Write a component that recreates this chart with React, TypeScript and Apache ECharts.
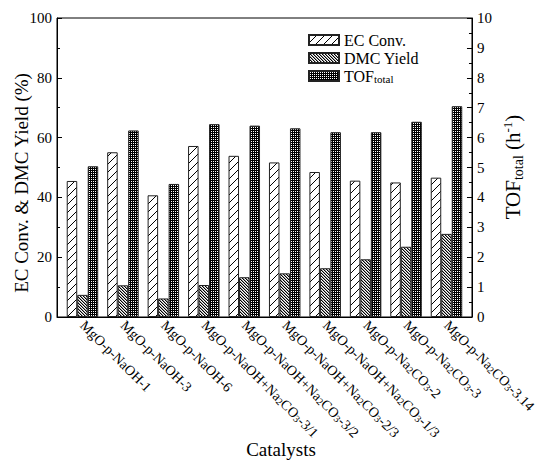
import React, { useEffect, useRef } from 'react';
import * as echarts from 'echarts';

const categories = [
  'MgO-p-NaOH-1',
  'MgO-p-NaOH-3',
  'MgO-p-NaOH-6',
  'MgO-p-NaOH+Na2CO3-3/1',
  'MgO-p-NaOH+Na2CO3-3/2',
  'MgO-p-NaOH+Na2CO3-2/3',
  'MgO-p-NaOH+Na2CO3-1/3',
  'MgO-p-Na2CO3-2',
  'MgO-p-Na2CO3-3',
  'MgO-p-Na2CO3-3.14',
];
const ecConv = [45.5, 55.1, 40.7, 57.2, 53.9, 51.7, 48.5, 45.6, 45.0, 46.6];
const dmcYield = [7.4, 10.6, 6.2, 10.7, 13.3, 14.6, 16.3, 19.3, 23.5, 27.8];
const tofTotal = [5.04, 6.24, 4.45, 6.45, 6.4, 6.31, 6.18, 6.18, 6.53, 7.05];
const seriesNames = ['EC Conv.', 'DMC Yield', 'TOFtotal'];

const FONT = 'Liberation Serif';

function makePattern(kind: string) {
  const c = document.createElement('canvas');
  let n = 8;
  if (kind === 'dmc') n = 3;
  if (kind === 'tof') n = 2;
  c.width = n;
  c.height = n;
  const ctx = c.getContext('2d')!;
  if (kind === 'ec') {
    ctx.fillStyle = '#fff';
    ctx.fillRect(0, 0, n, n);
    ctx.fillStyle = '#000';
    for (let i = 0; i < n; i++) ctx.fillRect(i, n - 1 - i, 1, 1);
  } else if (kind === 'dmc') {
    ctx.fillStyle = '#fff';
    ctx.fillRect(0, 0, n, n);
    for (let i = 0; i < n; i++) {
      ctx.fillStyle = '#000';
      ctx.fillRect(i, i, 1, 1);
      ctx.fillStyle = '#999';
      ctx.fillRect((i + 1) % n, i, 1, 1);
    }
  } else {
    ctx.fillStyle = '#000';
    ctx.fillRect(0, 0, n, n);
    ctx.fillStyle = '#fff';
    ctx.fillRect(1, 1, 1, 1);
  }
  return { image: c, repeat: 'repeat', imageWidth: n, imageHeight: n } as any;
}

function fmtCat(name: string) {
  const parts = name.split('Na2CO3');
  return parts.map((p) => (p ? `{m|${p}}` : '')).join('{m|Na}{s|2}{m|CO}{s|3}');
}

const rt = (size: number, extra: any = {}) => ({
  fontSize: size,
  fontFamily: FONT,
  color: '#000',
  fill: '#000',
  ...extra,
});

export default function App() {
  const ref = useRef<HTMLDivElement>(null);
  useEffect(() => {
    if (!ref.current) return;
    const chart = echarts.init(ref.current, undefined, { renderer: 'svg' });
    const pats = [makePattern('ec'), makePattern('dmc'), makePattern('tof')];
    const values = [ecConv, dmcYield, tofTotal];
    const xs = categories.map((_, i) => i + 1);
    const yAxisCommon = {
      type: 'value' as const,
      axisLine: { show: true, lineStyle: { color: '#000', width: 1 } },
      axisTick: { show: true, inside: true, length: 5, lineStyle: { color: '#000' } },
      minorTick: { show: true, splitNumber: 2, length: 3, lineStyle: { color: '#000' } },
      splitLine: { show: false },
      axisLabel: {
        color: '#000',
        fontSize: 15,
        fontFamily: FONT,
        margin: 5,
        formatter: (v: number) => `{n|${v}}`,
        rich: { n: rt(15) },
      },
    };
    chart.setOption({
      animation: false,
      backgroundColor: '#fff',
      textStyle: { fontFamily: FONT },
      grid: {
        left: 57,
        right: 62,
        top: 18,
        bottom: 151,
        show: true,
        borderColor: '#000',
        borderWidth: 1,
        containLabel: false,
      },
      legend: {
        orient: 'vertical',
        left: 303,
        top: 27,
        itemWidth: 30,
        itemHeight: 10,
        itemGap: 2,
        icon: 'rect',
        textStyle: {
          color: '#000',
          fontSize: 16,
          fontFamily: FONT,
          rich: {
            b: rt(16),
            s: rt(11, { verticalAlign: 'bottom' }),
          },
        },
        formatter: (name: string) => (name === 'TOFtotal' ? '{b|TOF}{s|total}' : `{b|${name}}`),
        data: seriesNames,
      },
      xAxis: {
        type: 'value',
        min: 0.37,
        max: 10.63,
        axisLine: { show: true, lineStyle: { color: '#000' } },
        axisTick: { show: false },
        splitLine: { show: false },
        axisLabel: {
          customValues: xs,
          rotate: -45,
          margin: 6,
          color: '#000',
          fontSize: 14,
          fontFamily: FONT,
          formatter: (v: number) => fmtCat(categories[Math.round(v) - 1] || ''),
          rich: {
            m: rt(14),
            s: rt(10, { verticalAlign: 'bottom' }),
          },
        },
      },
      yAxis: [
        { ...yAxisCommon, position: 'left', min: 0, max: 100, interval: 20 },
        { ...yAxisCommon, position: 'right', min: 0, max: 10, interval: 1 },
      ],
      graphic: [
        {
          type: 'text',
          x: 21,
          y: 183,
          rotation: Math.PI / 2,
          style: {
            text: '{b|EC Conv. & DMC Yield (%)}',
            fontSize: 19,
            fontFamily: FONT,
            fill: '#000',
            align: 'center',
            verticalAlign: 'middle',
            rich: { b: rt(19) },
          },
        },
        {
          type: 'text',
          x: 513,
          y: 167,
          rotation: Math.PI / 2,
          style: {
            text: '{b|TOF}{s|total}{b| (h}{p|-1}{b|)}',
            fontSize: 21,
            fontFamily: FONT,
            fill: '#000',
            align: 'center',
            verticalAlign: 'middle',
            rich: {
              b: rt(21, { lineHeight: 24 }),
              s: rt(14, { verticalAlign: 'bottom' }),
              p: rt(13, { verticalAlign: 'top' }),
            },
          },
        },
        {
          type: 'text',
          x: 281,
          y: 449,
          style: {
            text: '{b|Catalysts}',
            fontSize: 19,
            fontFamily: FONT,
            fill: '#000',
            align: 'center',
            verticalAlign: 'middle',
            rich: { b: rt(19) },
          },
        },
      ],
      series: seriesNames.map((name, k) => ({
        name,
        type: 'bar',
        yAxisIndex: k === 2 ? 1 : 0,
        barWidth: 10.5,
        barGap: '0%',
        itemStyle: { color: pats[k], borderColor: '#222', borderWidth: 1 },
        data: xs.map((x, i) => [x, values[k][i]]),
      })),
    });
    return () => chart.dispose();
  }, []);
  return (
    <div
      ref={ref}
      style={{ position: 'fixed', left: 0, top: 0, width: 539, height: 468, background: '#fff' }}
    />
  );
}
